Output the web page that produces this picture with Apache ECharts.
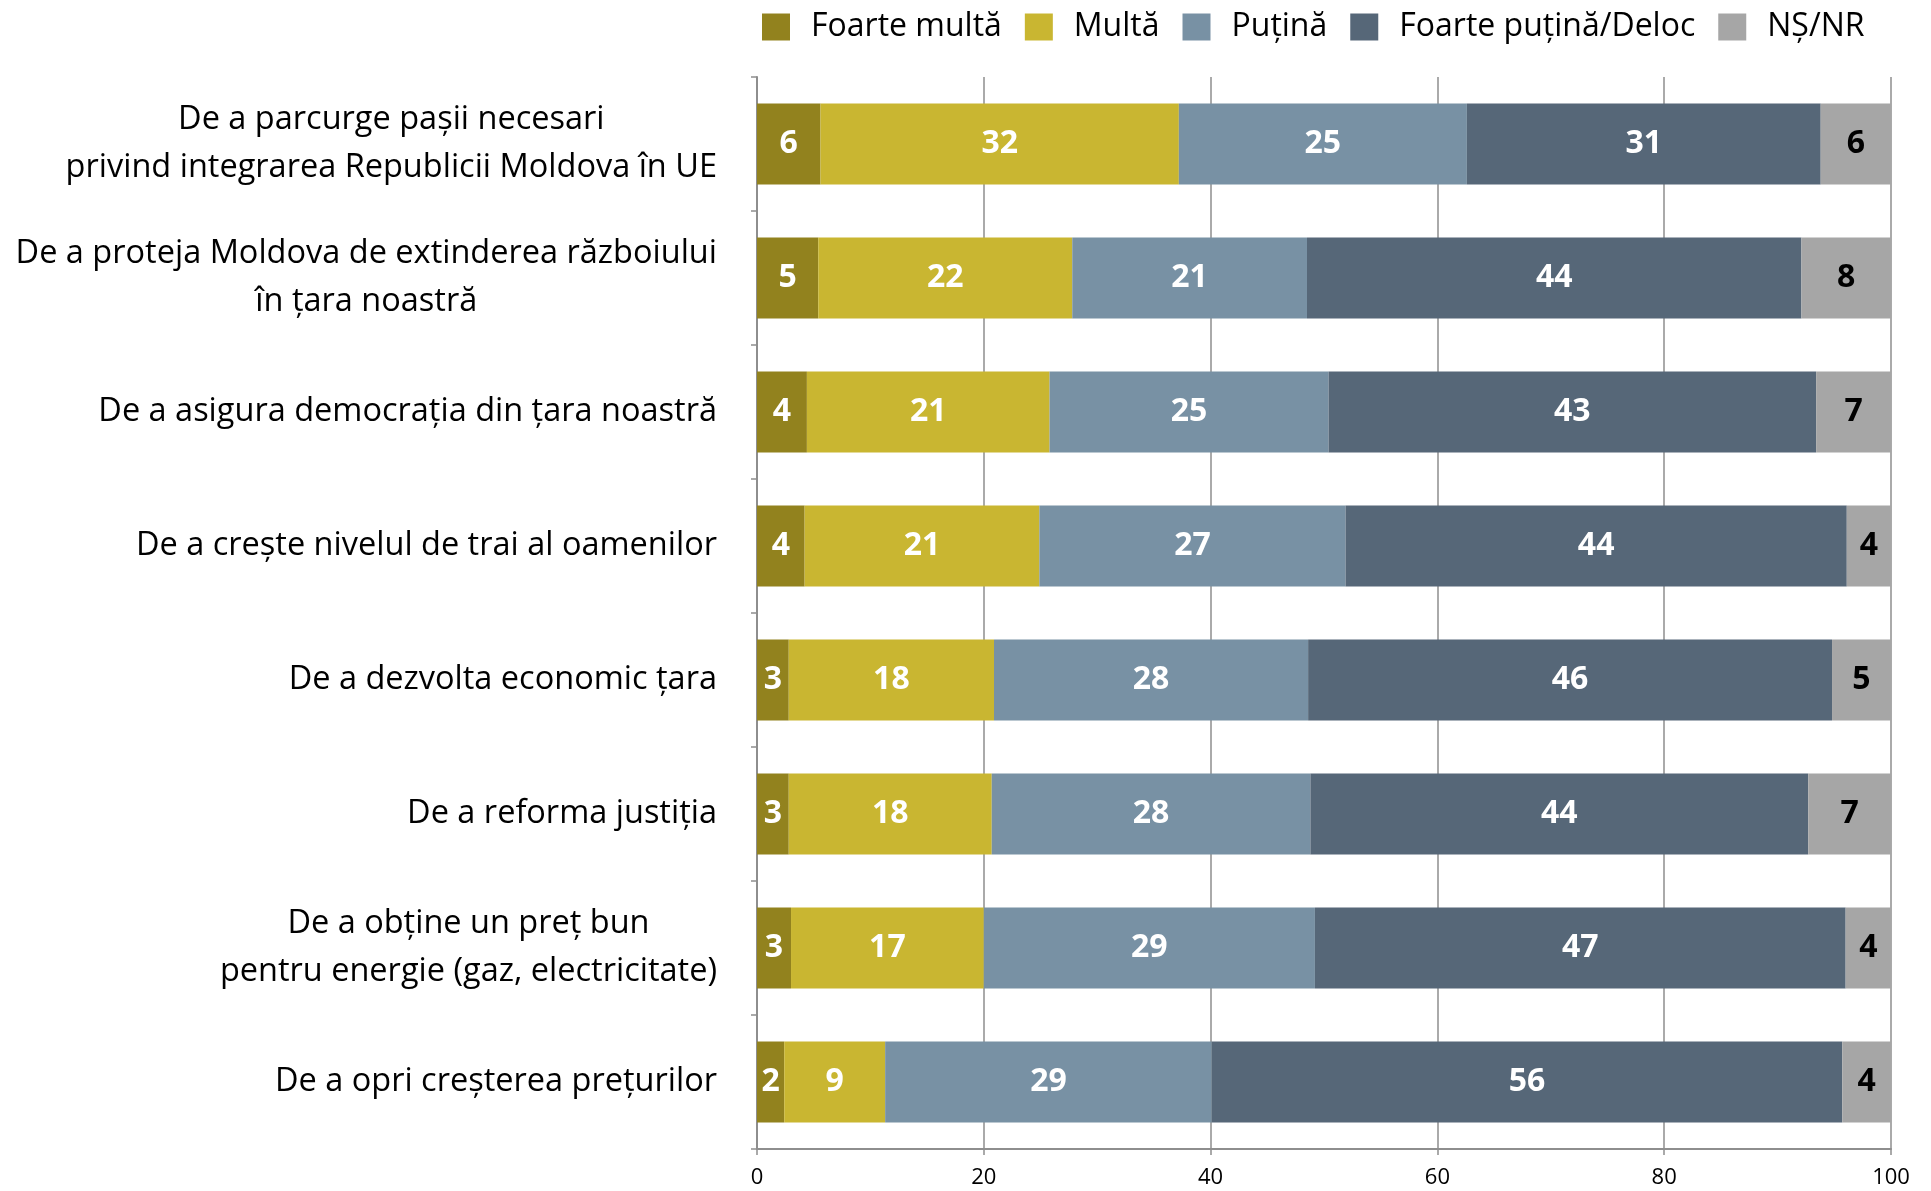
<!DOCTYPE html>
<html>
<head>
<meta charset="utf-8">
<title>chart</title>
<script src="https://cdn.jsdelivr.net/npm/echarts@6.0.0/dist/echarts.min.js"></script>
<style>
  html, body { margin: 0; padding: 0; background: #fff; }
  #chart { width: 1931px; height: 1191px; }
</style>
</head>
<body>
<div id="chart"></div>
<script>
const categories = [
  'De a parcurge pașii necesari\nprivind integrarea Republicii Moldova în UE',
  'De a proteja Moldova de extinderea războiului\nîn țara noastră',
  'De a asigura democrația din țara noastră',
  'De a crește nivelul de trai al oamenilor',
  'De a dezvolta economic țara',
  'De a reforma justiția',
  'De a obține un preț bun\npentru energie (gaz, electricitate)',
  'De a opri creșterea prețurilor'
]
const seriesNames = ['Foarte multă', 'Multă', 'Puțină', 'Foarte puțină/Deloc', 'NȘ/NR']
const foarteMulta = [5.6, 5.4, 4.4, 4.2, 2.8, 2.8, 3.0, 2.4]
const multa = [31.6, 22.4, 21.4, 20.7, 18.1, 17.9, 17.0, 8.9]
const putina = [25.4, 20.7, 24.6, 27.0, 27.7, 28.1, 29.2, 28.8]
const deloc = [31.2, 43.6, 43.0, 44.2, 46.2, 43.9, 46.8, 55.6]
const nsnr = [6.2, 7.9, 6.6, 3.9, 5.2, 7.3, 4.0, 4.3]
const xTicks = [0, 20, 40, 60, 80, 100]

const colors = ['#92821E', '#C9B631', '#7891A4', '#566778', '#A6A6A6']
const labelColors = ['#fff', '#fff', '#fff', '#fff', '#000']
const font = '"Open Sans", "Noto Sans", sans-serif'
const gridColor = '#8E8E8E'

const chart = echarts.init(document.getElementById('chart'))

const values = [foarteMulta, multa, putina, deloc, nsnr]
const series = values.map((data, i) => ({
  name: seriesNames[i],
  type: 'bar',
  stack: 'total',
  barWidth: 81,
  data: data,
  itemStyle: { color: colors[i] },
  label: {
    show: true,
    position: 'inside',
    color: labelColors[i],
    fontFamily: font,
    fontWeight: 'bold',
    fontSize: 32,
    formatter: p => Math.round(p.value)
  },
  animation: false
}))

chart.setOption({
  backgroundColor: '#fff',
  legend: {
    left: 762,
    top: 11,
    padding: 0,
    itemWidth: 28,
    itemHeight: 27,
    itemGap: 23,
    icon: 'rect',
    data: seriesNames,
    textStyle: {
      fontFamily: font,
      fontSize: 32,
      lineHeight: 27,
      color: '#000',
      padding: [0, 0, 0, 16]
    }
  },
  grid: {
    left: 757,
    right: 40,
    top: 77,
    bottom: 42
  },
  xAxis: {
    type: 'value',
    min: xTicks[0],
    max: xTicks[xTicks.length - 1],
    interval: 20,
    axisLine: { show: true, lineStyle: { color: gridColor, width: 2 } },
    axisTick: { show: true, length: 6, lineStyle: { color: gridColor, width: 1.5 } },
    splitLine: { show: true, lineStyle: { color: gridColor, width: 1.5 } },
    axisLabel: {
      margin: 18,
      fontFamily: font,
      fontSize: 22,
      color: '#000'
    }
  },
  yAxis: {
    type: 'category',
    inverse: true,
    data: categories,
    axisLine: { show: true, lineStyle: { color: gridColor, width: 2 } },
    axisTick: { show: true, length: 6, interval: 0, lineStyle: { color: gridColor, width: 1.5 } },
    axisLabel: {
      margin: 40,
      interval: 0,
      align: 'right',
      // lines centred inside the block, block right-aligned against the axis
      formatter: v => v.split('\n').map(l => '{c|' + l + '}').join('\n'),
      rich: {
        c: {
          align: 'center',
          fontFamily: font,
          fontSize: 32.5,
          lineHeight: 48,
          color: '#000'
        }
      }
    }
  },
  series: series
})
</script>
</body>
</html>
